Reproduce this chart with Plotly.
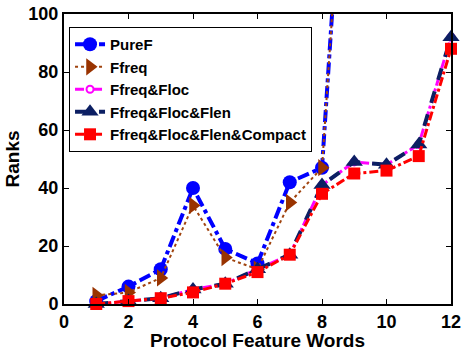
import plotly.graph_objects as go

x_all = [1, 2, 3, 4, 5, 6, 7, 8, 9, 10, 11, 12]
x_pure = [1, 2, 3, 4, 5, 6, 7, 8, 9]
puref = [1, 6, 12, 40, 19, 14, 42, 47, 217]
ffreq = [3, 4, 9, 34, 16, 12, 35, 47, 215]
ffreq_floc = [0, 1, 2, 5, 7, 12, 17, 41, 49, 48, 55, 92]
ffreq_floc_flen = [0, 1, 2, 5, 7, 12, 17, 41, 49, 48, 55, 92]
compact = [0, 1, 2, 4, 7, 11, 17, 38, 45, 46, 51, 88]

names = ["PureF", "Ffreq", "Ffreq&Floc", "Ffreq&Floc&Flen", "Ffreq&Floc&Flen&Compact"]

FONT = "Liberation Sans, Arial, Helvetica, sans-serif"

fig = go.Figure()
fig.add_trace(go.Scatter(x=x_pure, y=puref, name=names[0], mode="lines+markers",
                         line=dict(color="#0000FF", width=4, dash="dashdot"),
                         marker=dict(symbol="circle", size=14, color="#0000FF"),
                         cliponaxis=True))
fig.add_trace(go.Scatter(x=x_pure, y=ffreq, name=names[1], mode="lines+markers",
                         line=dict(color="#A0440F", width=2, dash="dot"),
                         marker=dict(symbol="triangle-right", size=15, color="#993300"),
                         cliponaxis=True))
fig.add_trace(go.Scatter(x=x_all, y=ffreq_floc, name=names[2], mode="lines+markers",
                         line=dict(color="#FF00FF", width=3, dash="dashdot"),
                         marker=dict(symbol="circle", size=7, color="white",
                                     line=dict(color="#FF00FF", width=2)),
                         cliponaxis=False))
fig.add_trace(go.Scatter(x=x_all, y=ffreq_floc_flen, name=names[3], mode="lines+markers",
                         line=dict(color="#0C1F63", width=4, dash="dash"),
                         marker=dict(symbol="triangle-up", size=15, color="#0C1F63"),
                         cliponaxis=False))
fig.add_trace(go.Scatter(x=x_all, y=compact, name=names[4], mode="lines+markers",
                         line=dict(color="#FF0000", width=3, dash="dashdot"),
                         marker=dict(symbol="square", size=12, color="#FF0000"),
                         cliponaxis=False))

axis_common = dict(showline=True, linecolor="black", linewidth=2, mirror="ticks",
                   ticks="inside", ticklen=5, tickcolor="black", tickwidth=1,
                   showgrid=False, zeroline=False, automargin=False,
                   tickfont=dict(family=FONT, size=18, color="black", weight="bold"))

fig.update_layout(
    width=462, height=351,
    margin=dict(l=64, r=11, t=14, b=47),
    paper_bgcolor="white", plot_bgcolor="white",
    xaxis=dict(range=[0, 12], tickvals=[0, 2, 4, 6, 8, 10, 12],
               title=dict(text="Protocol Feature Words", standoff=0,
                          font=dict(family=FONT, size=19, color="black", weight="bold")),
               **axis_common),
    yaxis=dict(range=[0, 100], tickvals=[0, 20, 40, 60, 80, 100],
               title=dict(text="Ranks", standoff=4,
                          font=dict(family=FONT, size=19, color="black", weight="bold")),
               **axis_common),
    legend=dict(x=0.013, y=0.955, xanchor="left", yanchor="top",
                bgcolor="white", bordercolor="black", borderwidth=1,
                font=dict(family=FONT, size=15, color="black", weight="bold"),
                itemwidth=30, tracegroupgap=0),
    showlegend=True,
)

fig.write_html("out.html")
